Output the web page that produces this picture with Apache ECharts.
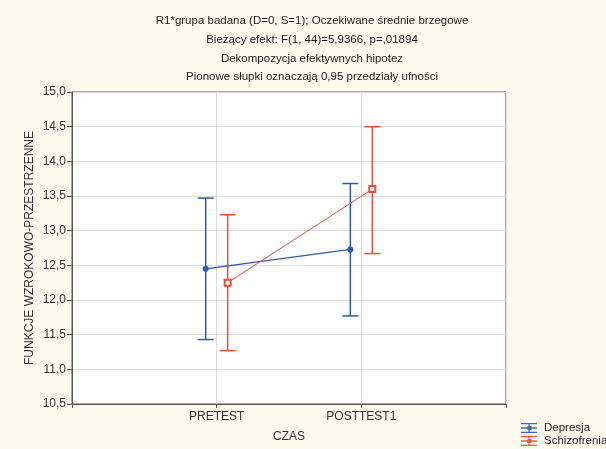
<!DOCTYPE html>
<html><head><meta charset="utf-8">
<script src="https://cdn.jsdelivr.net/npm/echarts@6/dist/echarts.min.js"></script>
<style>html,body{margin:0;padding:0;background:#fdfaef;}#c{width:606px;height:449px;}</style>
</head><body><div id="c"></div>
<script>
const categories = ['PRETEST', 'POSTTEST1'];
const seriesNames = ['Depresja', 'Schizofrenia'];
const depresjaMean = [12.45, 12.73];
const depresjaLow = [11.43, 11.77];
const depresjaHigh = [13.47, 13.68];
const schizofreniaMean = [12.25, 13.60];
const schizofreniaLow = [11.27, 12.67];
const schizofreniaHigh = [13.23, 14.50];
const yTicks = ['10,5','11,0','11,5','12,0','12,5','13,0','13,5','14,0','14,5','15,0'];
const titleLines = [
  'R1*grupa badana (D=0, S=1); Oczekiwane średnie brzegowe',
  'Bieżący efekt: F(1, 44)=5,9366, p=,01894',
  'Dekompozycja efektywnych hipotez',
  'Pionowe słupki oznaczają 0,95 przedziały ufności'
];

const blue = '#2b5ba8', red = '#f04a3a';
const offset = 0.076;
const font = 'Liberation Sans, Arial, sans-serif';

function pts(mean, off){ return mean.map((v,i)=>[i+1+off, v]); }
function bars(low, high, off){ return low.map((v,i)=>[i+1+off, v, high[i]]); }
function errRender(color){
  return function(params, api){
    const x = api.value(0);
    const lo = api.coord([x, api.value(1)]);
    const hi = api.coord([x, api.value(2)]);
    const w = 8;
    const st = {stroke: color, lineWidth: 1.5};
    return {type:'group', children:[
      {type:'line', shape:{x1:lo[0],y1:lo[1],x2:hi[0],y2:hi[1]}, style:st},
      {type:'line', shape:{x1:lo[0]-w,y1:lo[1],x2:lo[0]+w,y2:lo[1]}, style:st},
      {type:'line', shape:{x1:hi[0]-w,y1:hi[1],x2:hi[0]+w,y2:hi[1]}, style:st}
    ]};
  };
}
const iconPath = 'path://M0,0H16V1.3H0Z M0,4.35H16V5.65H0Z M0,8.7H16V10H0Z M7.4,0H8.6V10H7.4Z M6.5,3H10.5V7H6.5Z';
const legendColors = [blue, red];

const chart = echarts.init(document.getElementById('c'));
chart.setOption({
  backgroundColor: '#fdfaef',
  animation: false,
  title: titleLines.map((t,i)=>({
    text: t, left: 307, top: 10 + i*18.7,
    textAlign: 'center',
    textStyle: {fontFamily: font, fontSize: 11.5, fontWeight: 'normal', color: '#1a1a1a'}
  })),
  grid: {left: 72, right: 100, top: 92, bottom: 45, show: true, backgroundColor: '#fff', borderColor: '#555', borderWidth: 1},
  legend: {
    orient: 'vertical', left: 521, top: 422, height: 40, itemGap: 1, itemWidth: 16, itemHeight: 10, padding: 0,
    textStyle: {fontFamily: font, fontSize: 11.5, color: '#222', padding: [0,0,0,2]},
    data: seriesNames.map((n,i)=>({name:n, icon: iconPath,
      itemStyle: {color: legendColors[i], borderWidth: 0, opacity: 0.9}}))
  },
  xAxis: {
    type: 'value', min: 0, max: 3, interval: 1,
    name: 'CZAS', nameLocation: 'middle', nameGap: 27,
    nameTextStyle: {fontFamily: font, fontSize: 12, color: '#333'},
    axisLine: {show: true, lineStyle: {color: '#555'}},
    axisTick: {show: true, length: 4, lineStyle: {color: '#555'}},
    splitLine: {show: true, lineStyle: {color: '#dcdcdc'}},
    axisLabel: {fontFamily: font, fontSize: 12, color: '#333', margin: 7,
      formatter: v => categories[v-1] || ''}
  },
  yAxis: {
    type: 'value', min: 10.5, max: 15, interval: 0.5,
    name: 'FUNKCJE WZROKOWO-PRZESTRZENNE', nameLocation: 'middle', nameGap: 36, nameRotate: 90,
    nameMoveOverlap: false,
    nameTextStyle: {fontFamily: font, fontSize: 12, color: '#333'},
    axisLine: {show: true, lineStyle: {color: '#555'}},
    axisTick: {show: true, length: 5, lineStyle: {color: '#555'}},
    splitLine: {show: true, lineStyle: {color: '#dcdcdc'}},
    axisLabel: {fontFamily: font, fontSize: 12, color: '#333', margin: 6,
      formatter: v => yTicks[Math.round((v-10.5)/0.5)]}
  },
  series: [
    {name: 'errD', type: 'custom', renderItem: errRender(blue), data: bars(depresjaLow, depresjaHigh, -offset), z: 2},
    {name: 'errS', type: 'custom', renderItem: errRender(red), data: bars(schizofreniaLow, schizofreniaHigh, offset), z: 2},
    {name: seriesNames[0], type: 'line', data: pts(depresjaMean, -offset), color: blue,
      lineStyle: {width: 1.2, color: blue}, symbol: 'circle', symbolSize: 6,
      itemStyle: {color: blue}, z: 3},
    {name: seriesNames[1], type: 'line', data: pts(schizofreniaMean, offset), color: red,
      lineStyle: {width: 1, color: red}, symbol: 'rect', symbolSize: 6,
      itemStyle: {color: '#fff', borderColor: red, borderWidth: 2}, z: 3}
  ]
});
</script></body></html>
